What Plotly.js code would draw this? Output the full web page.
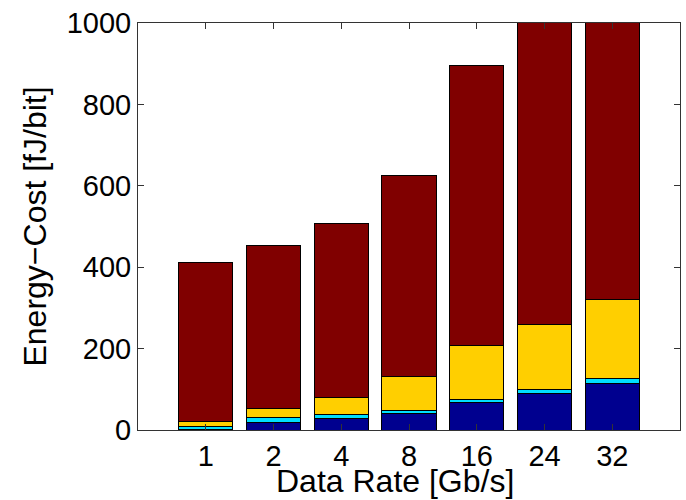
<!DOCTYPE html>
<html>
<head>
<meta charset="utf-8">
<script src="https://cdn.plot.ly/plotly-3.0.1.min.js"></script>
<style>html,body{margin:0;padding:0;background:#fff;}#chart{width:686px;height:500px;}</style>
</head>
<body>
<div id="chart"></div>
<script>
// Data
const positions = [1, 2, 3, 4, 5, 6, 7];
const rateLabels = ["1", "2", "4", "8", "16", "24", "32"];
const navySeries   = [1.5, 19, 28, 40, 67, 90, 114];
const cyanSeries   = [6.5, 11, 9, 9, 7, 9, 12];
const yellowSeries = [12.5, 22, 43, 83, 134, 160, 195];
const redSeries    = [391, 401, 428, 494, 688, 941, 1080];

const colors = ["#00008F", "#00DFFF", "#FFCF00", "#800000"];
const seriesList = [navySeries, cyanSeries, yellowSeries, redSeries];

const traces = seriesList.map((vals, i) => ({
  type: "bar",
  x: positions,
  y: vals,
  width: 0.8,
  marker: { color: colors[i], line: { color: "#000", width: 1 } },
  hoverinfo: "none",
  showlegend: false
}));

const fontFam = "Liberation Sans, Arial, Helvetica, sans-serif";
const layout = {
  width: 686, height: 500,
  margin: { l: 138, r: 6, t: 23, b: 70, pad: 0 },
  barmode: "stack",
  paper_bgcolor: "#fff",
  plot_bgcolor: "#fff",
  font: { family: fontFam, color: "#000" },
  xaxis: {
    range: [0, 8],
    tickvals: positions,
    ticktext: rateLabels,
    ticks: "inside", ticklen: 6, tickcolor: "#333",
    showline: true, linecolor: "#333", linewidth: 1, mirror: "ticks",
    showgrid: false, zeroline: false,
    tickfont: { size: 29, family: fontFam }
  },
  yaxis: {
    range: [0, 1000],
    tickvals: [0, 200, 400, 600, 800, 1000],
    ticks: "inside", ticklen: 6, tickcolor: "#333",
    showline: true, linecolor: "#333", linewidth: 1, mirror: "ticks",
    showgrid: false, zeroline: false,
    tickfont: { size: 29, family: fontFam },
    title: { text: "Energy\u2212Cost [fJ/bit]", font: { size: 32, family: fontFam }, standoff: 10 }
  },
  annotations: [{
    text: "Data Rate [Gb/s]",
    xref: "paper", yref: "paper",
    x: (395 - 138) / 542, y: (430 - 500) / 407,
    xanchor: "center", yanchor: "bottom",
    borderpad: 0,
    showarrow: false,
    font: { size: 32, family: fontFam, color: "#000" }
  }]
};

Plotly.newPlot("chart", traces, layout, { displayModeBar: false, staticPlot: true });
</script>
</body>
</html>
